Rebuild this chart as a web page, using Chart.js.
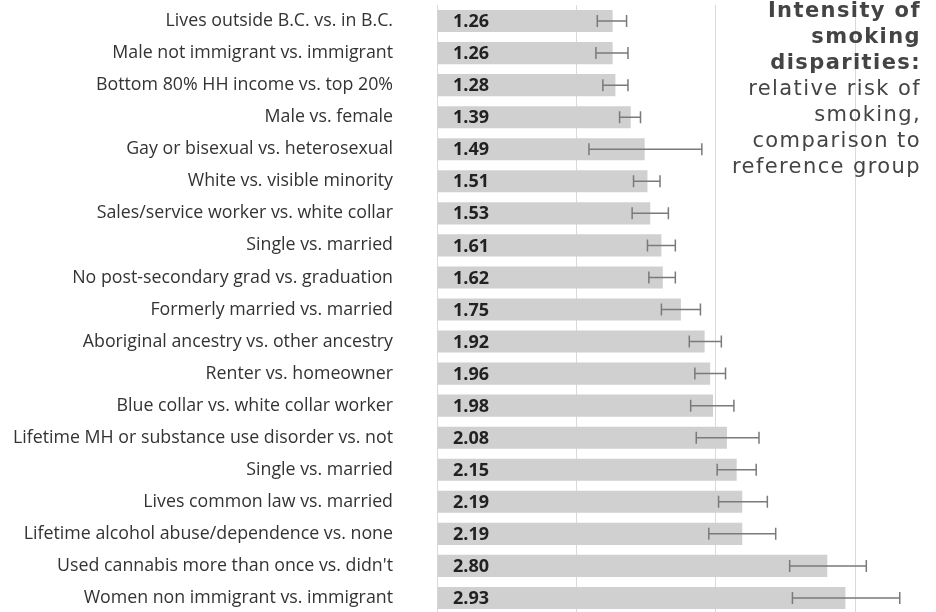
<!DOCTYPE html>
<html>
<head>
<meta charset="utf-8">
<script src="https://cdn.jsdelivr.net/npm/chart.js@4"></script>
<style>
  html, body { margin: 0; padding: 0; background: #fff; overflow: hidden; }
  #wrap { position: relative; width: 936px; height: 622px; }
  #title {
    position: absolute; right: 15px; top: -3px;
    font-family: "DejaVu Sans", Verdana, sans-serif; font-size: 21px;
    line-height: 26px; color: #444; text-align: right; letter-spacing: 1.4px;
  }
</style>
</head>
<body>
<div id="wrap">
  <canvas id="myChart" width="936" height="622"></canvas>
  <div id="title"><b>Intensity of<br>smoking<br>disparities:</b><br>relative risk of<br>smoking,<br>comparison to<br>reference group</div>
</div>
<script>
const categories = [
    'Lives outside B.C. vs. in B.C.',
    'Male not immigrant vs. immigrant',
    'Bottom 80% HH income vs. top 20%',
    'Male vs. female',
    'Gay or bisexual vs. heterosexual',
    'White vs. visible minority',
    'Sales/service worker vs. white collar',
    'Single vs. married',
    'No post-secondary grad vs. graduation',
    'Formerly married vs. married',
    'Aboriginal ancestry vs. other ancestry',
    'Renter vs. homeowner',
    'Blue collar vs. white collar worker',
    'Lifetime MH or substance use disorder vs. not',
    'Single vs. married',
    'Lives common law vs. married',
    'Lifetime alcohol abuse/dependence vs. none',
    "Used cannabis more than once vs. didn't",
    'Women non immigrant vs. immigrant'
];
const relativeRisk = [1.26, 1.26, 1.28, 1.39, 1.49, 1.51, 1.53, 1.61, 1.62, 1.75, 1.92, 1.96, 1.98, 2.08, 2.15, 2.19, 2.19, 2.80, 2.93];
const ciLow  = [1.15, 1.14, 1.19, 1.31, 1.09, 1.41, 1.40, 1.51, 1.52, 1.61, 1.81, 1.85, 1.82, 1.86, 2.01, 2.02, 1.95, 2.53, 2.55];
const ciHigh = [1.36, 1.37, 1.37, 1.46, 1.90, 1.60, 1.66, 1.71, 1.71, 1.89, 2.04, 2.07, 2.13, 2.31, 2.29, 2.37, 2.43, 3.08, 3.32];

// error bars + value labels inside the bars
const extras = {
    id: 'extras',
    afterDatasetsDraw(chart) {
        const ctx = chart.ctx;
        const x = chart.scales.x;
        const meta = chart.getDatasetMeta(0);
        ctx.save();
        ctx.strokeStyle = '#7a7a7a';
        ctx.lineWidth = 1.5;
        for (let i = 0; i < meta.data.length; i++) {
            let y = meta.data[i].y;
            let x1 = x.getPixelForValue(ciLow[i]);
            let x2 = x.getPixelForValue(ciHigh[i]);
            ctx.beginPath();
            ctx.moveTo(x1, y); ctx.lineTo(x2, y);
            ctx.moveTo(x1, y - 6); ctx.lineTo(x1, y + 6);
            ctx.moveTo(x2, y - 6); ctx.lineTo(x2, y + 6);
            ctx.stroke();
        }
        ctx.fillStyle = '#222';
        ctx.font = 'bold 18px "Open Sans", sans-serif';
        ctx.textBaseline = 'middle';
        ctx.textAlign = 'left';
        for (let i = 0; i < meta.data.length; i++) {
            ctx.fillText(relativeRisk[i].toFixed(2), x.left + 16, meta.data[i].y + 1);
        }
        ctx.restore();
    }
};

const ctx = document.getElementById('myChart');
new Chart(ctx, {
    type: 'bar',
    data: {
        labels: categories,
        datasets: [{
            data: relativeRisk,
            backgroundColor: '#d0d0d0',
            borderWidth: 0,
            barPercentage: 0.69,
            categoryPercentage: 1
        }]
    },
    options: {
        indexAxis: 'y',
        responsive: false,
        animation: false,
        layout: { padding: { top: 5, bottom: 8, left: 0, right: 0 } },
        plugins: { legend: { display: false }, tooltip: { enabled: false } },
        scales: {
            x: {
                min: 0,
                max: 3.58,
                ticks: { display: false, stepSize: 1 },
                grid: { color: '#d9d9d9', lineWidth: 1, drawTicks: false },
                border: { display: false }
            },
            y: {
                ticks: {
                    color: '#333',
                    padding: 44,
                    font: { family: 'Open Sans', size: 17.8 }
                },
                grid: { display: false, drawTicks: false },
                border: { display: false },
                afterFit(scale) {
                    scale.width = 437;
                    scale.paddingTop = 0;
                    scale.paddingBottom = 0;
                }
            }
        }
    },
    plugins: [extras]
});
</script>
</body>
</html>
